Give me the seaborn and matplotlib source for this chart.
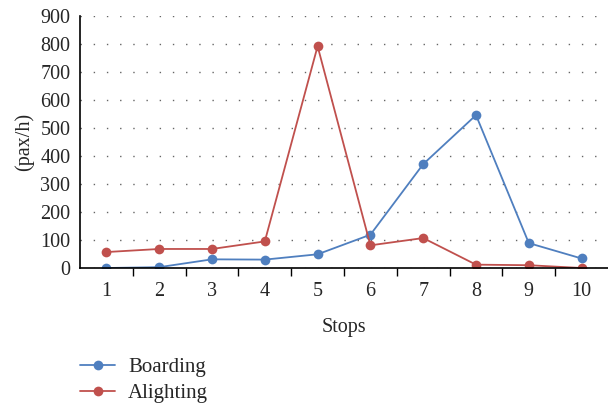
import matplotlib
matplotlib.use("Agg")
import matplotlib.pyplot as plt
import pandas as pd
import seaborn as sns

stops = [1, 2, 3, 4, 5, 6, 7, 8, 9, 10]
boarding = [0, 3, 31, 30, 49, 119, 371, 546, 89, 34]
alighting = [57, 68, 68, 95, 792, 81, 107, 12, 10, 0]
series_names = ["Boarding", "Alighting"]
colors = ["#4F7FBF", "#C0504D"]

df = pd.DataFrame({
    "stop": stops * 2,
    "value": boarding + alighting,
    "series": [series_names[0]] * len(stops) + [series_names[1]] * len(stops),
})

sns.set_style("white")
plt.rcParams["font.family"] = ["Liberation Serif", "DejaVu Serif"]

fig = plt.figure(figsize=(6.08, 4.04), dpi=100)
ax = fig.add_axes([0.1316, 0.3366, 0.8684, 0.6238])

sns.lineplot(data=df, x="stop", y="value", hue="series", palette=colors,
             marker="o", markersize=7, markeredgewidth=0, linewidth=1.3,
             ax=ax, legend=True)

ax.set_xlim(0.5, 10.5)
ax.set_ylim(0, 900)
ax.set_yticks(range(0, 901, 100))
ax.yaxis.grid(True, linestyle=(0, (1, 8.5)), color="#666666", linewidth=1.0)
ax.xaxis.grid(False)

ax.set_xticks([s + 0.5 for s in stops[:-1]])
ax.set_xticklabels([])
ax.set_xticks(stops, minor=True)
ax.set_xticklabels([str(s) for s in stops], minor=True)
ax.tick_params(axis="x", which="major", direction="out", length=6, width=1, color="black", bottom=True)
ax.tick_params(axis="x", which="minor", length=0, pad=10, labelsize=14.5)
ax.tick_params(axis="y", length=0, labelsize=14.5, pad=7)

for side in ["top", "right"]:
    ax.spines[side].set_visible(False)
for side in ["left", "bottom"]:
    ax.spines[side].set_color("black")
    ax.spines[side].set_linewidth(1.2)

ax.set_xlabel("Stops", fontsize=14.5, labelpad=12)
ax.set_ylabel("(pax/h)", fontsize=14.5, labelpad=4)

handles, labels = ax.get_legend_handles_labels()
ax.legend(handles, labels, loc="upper left", bbox_to_anchor=(0.118, 0.135),
          bbox_transform=fig.transFigure, frameon=False, fontsize=15,
          handlelength=1.7, labelspacing=0.3, handletextpad=0.6, borderaxespad=0)

fig.savefig("out.png", dpi=100)
